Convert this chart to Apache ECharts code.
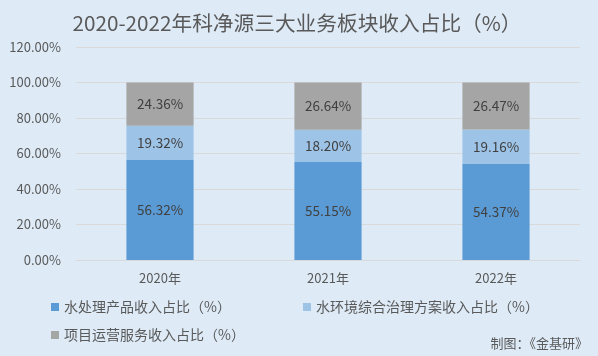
<!DOCTYPE html>
<html><head><meta charset="utf-8">
<script src="https://cdn.jsdelivr.net/npm/echarts@6/dist/echarts.min.js"></script>
<style>html,body{margin:0;padding:0;background:#deebf7;}#c{width:598px;height:356px;}</style>
</head><body><div id="c"></div>
<script>
const categories = ['2020年','2021年','2022年'];
const waterProducts = [56.32, 55.15, 54.37];
const envSolutions = [19.32, 18.20, 19.16];
const operations = [24.36, 26.64, 26.47];
const seriesNames = ['水处理产品收入占比（%）','水环境综合治理方案收入占比（%）','项目运营服务收入占比（%）'];
const colors = ['#5b9bd5','#9dc3e6','#a5a5a5'];
const FONT = '"Noto Sans CJK SC", "Noto Sans", sans-serif';
const chart = echarts.init(document.getElementById('c'));
const lbl = {show:true, position:'inside', color:'#404040', fontSize:13.5, fontFamily:FONT, formatter:p=>p.value.toFixed(2)+'%'};
function legend(name, left, top){
  return {data:[name], left:left, top:top, icon:'rect', itemWidth:8, itemHeight:8, itemGap:5, padding:0,
    textStyle:{color:'#595959', fontSize:14, fontFamily:FONT}};
}
chart.setOption({
  backgroundColor:'#deebf7',
  color: colors,
  title:[{text:'2020-2022年科净源三大业务板块收入占比（%）', left:292, textAlign:'center', top:8,
    textStyle:{color:'#595959', fontSize:20.7, fontWeight:'normal', fontFamily:FONT}},
    {text:'制图：《金基研》', right:10, top:337, padding:0, textStyle:{color:'#595959', fontSize:13, fontWeight:'normal', fontFamily:FONT}}],
  legend:[legend(seriesNames[0],51,300), legend(seriesNames[1],303,300), legend(seriesNames[2],51,328)],
  grid:{left:76, right:18, top:47, bottom:96},
  xAxis:{type:'category', data:categories,
    axisLine:{lineStyle:{color:'#d9d9d9'}}, axisTick:{show:false},
    axisLabel:{color:'#595959', fontSize:13, fontFamily:FONT, margin:12}},
  yAxis:{type:'value', min:0, max:120, interval:20,
    axisLabel:{color:'#595959', fontSize:13, fontFamily:FONT, formatter:v=>v.toFixed(2)+'%', margin:15},
    splitLine:{lineStyle:{color:'#d9d9d9'}}, axisLine:{show:false}},
  series:[
    {name:seriesNames[0], type:'bar', stack:'a', data:waterProducts, barWidth:'40%', label:lbl},
    {name:seriesNames[1], type:'bar', stack:'a', data:envSolutions, label:lbl},
    {name:seriesNames[2], type:'bar', stack:'a', data:operations, label:lbl}
  ]
});
</script></body></html>
